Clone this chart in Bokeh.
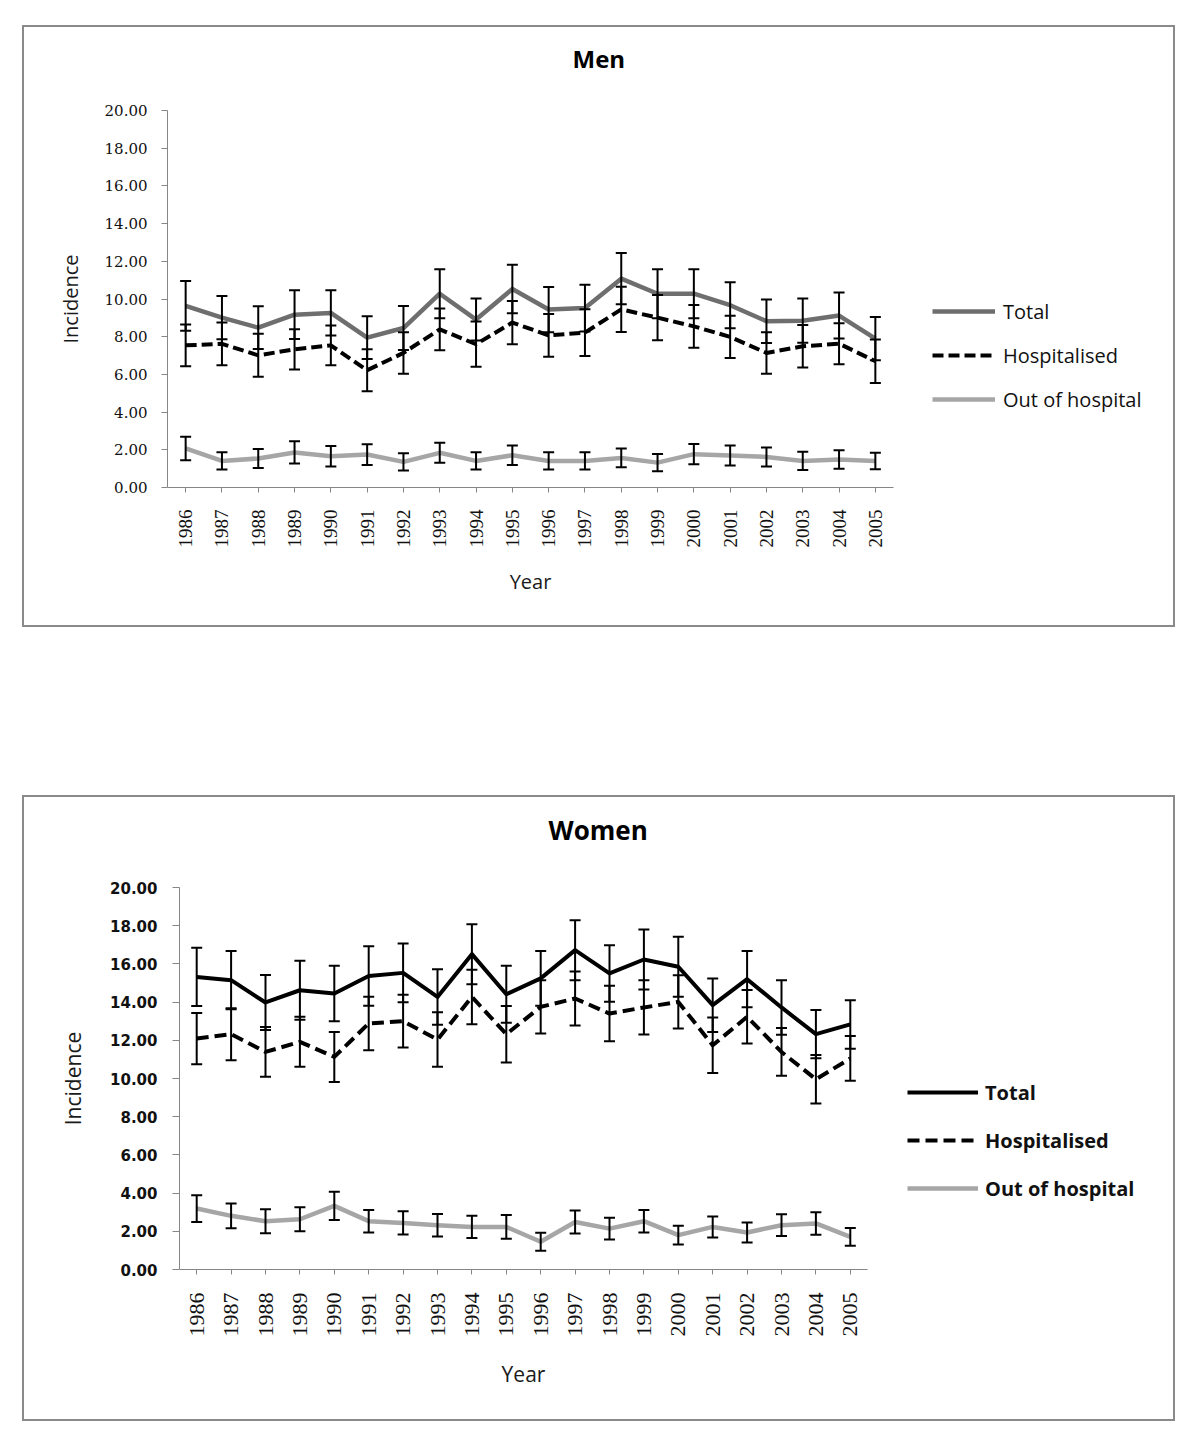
import math
from bokeh.plotting import figure
from bokeh.models import (ColumnDataSource, Whisker, TeeHead, Legend, LegendItem,
                          FixedTicker, NumeralTickFormatter, Range1d)
from bokeh.embed import file_html
from bokeh.resources import INLINE

# ---------------- data ----------------
years = list(range(1986, 2006))
y_ticks = [0, 2, 4, 6, 8, 10, 12, 14, 16, 18, 20]
series_names = ["Total", "Hospitalised", "Out of hospital"]

men_total = [9.63, 9.01, 8.48, 9.17, 9.26, 7.95, 8.46, 10.28, 8.91, 10.53,
             9.44, 9.52, 11.08, 10.28, 10.28, 9.67, 8.82, 8.85, 9.12, 7.90]
men_total_err = [1.32, 1.15, 1.13, 1.29, 1.20, 1.13, 1.17, 1.30, 1.11, 1.29,
                 1.20, 1.24, 1.36, 1.30, 1.30, 1.22, 1.15, 1.17, 1.22, 1.15]
men_hosp = [7.54, 7.62, 7.01, 7.33, 7.54, 6.22, 7.14, 8.39, 7.60, 8.75,
            8.07, 8.22, 9.45, 9.01, 8.55, 7.99, 7.14, 7.49, 7.63, 6.70]
men_hosp_err = [1.11, 1.13, 1.14, 1.07, 1.05, 1.11, 1.10, 1.11, 1.20, 1.15,
                1.14, 1.24, 1.20, 1.20, 1.13, 1.12, 1.10, 1.13, 1.09, 1.15]
men_out = [2.07, 1.41, 1.54, 1.86, 1.66, 1.75, 1.36, 1.84, 1.41, 1.71,
           1.41, 1.41, 1.57, 1.32, 1.77, 1.70, 1.62, 1.41, 1.48, 1.41]
men_out_err = [0.62, 0.46, 0.50, 0.59, 0.54, 0.55, 0.46, 0.53, 0.46, 0.52,
               0.46, 0.46, 0.50, 0.46, 0.54, 0.53, 0.50, 0.48, 0.49, 0.44]

women_total = [15.32, 15.15, 13.98, 14.62, 14.45, 15.37, 15.53, 14.27, 16.51, 14.41,
               15.24, 16.72, 15.50, 16.23, 15.85, 13.84, 15.20, 13.72, 12.32, 12.83]
women_total_err = [1.53, 1.52, 1.44, 1.54, 1.45, 1.56, 1.54, 1.45, 1.57, 1.49,
                   1.43, 1.57, 1.48, 1.57, 1.57, 1.40, 1.47, 1.43, 1.26, 1.27]
women_hosp = [12.09, 12.32, 11.39, 11.92, 11.13, 12.88, 13.00, 12.04, 14.27, 12.32,
              13.75, 14.19, 13.40, 13.72, 14.01, 11.74, 13.23, 11.39, 9.96, 11.05]
women_hosp_err = [1.34, 1.36, 1.30, 1.31, 1.31, 1.40, 1.38, 1.43, 1.43, 1.48,
                  1.39, 1.41, 1.45, 1.42, 1.39, 1.45, 1.40, 1.25, 1.27, 1.17]
women_out = [3.19, 2.81, 2.53, 2.63, 3.33, 2.53, 2.44, 2.32, 2.23, 2.23,
             1.45, 2.49, 2.14, 2.53, 1.80, 2.23, 1.94, 2.32, 2.41, 1.71]
women_out_err = [0.70, 0.65, 0.63, 0.63, 0.74, 0.59, 0.61, 0.59, 0.58, 0.62,
                 0.47, 0.60, 0.57, 0.59, 0.49, 0.55, 0.52, 0.57, 0.59, 0.46]

AXIS_GRAY = "#868686"


def build(title, series, cfg):
    p = figure(frame_width=cfg["fw"], frame_height=cfg["fh"],
               min_border_left=cfg["bl"], min_border_right=cfg["br"],
               min_border_top=cfg["bt"], min_border_bottom=cfg["bb"],
               x_range=Range1d(1985.5, 2005.5), y_range=Range1d(0, 20),
               output_backend="svg", toolbar_location=None,
               background_fill_color="white", border_fill_alpha=0)
    p.outline_line_color = None
    p.xgrid.visible = False
    p.ygrid.visible = False

    # a blank second line lifts the title away from the frame
    p.title.text = title + "\n "
    p.title.align = "left"
    p.title.offset = cfg["title_offset"]
    p.title.standoff = cfg["title_standoff"]
    p.title.text_font = "Open Sans"
    p.title.text_font_style = "bold"
    p.title.text_font_size = cfg["title_size"]
    p.title.text_color = "#000000"

    # y axis
    ya = p.yaxis[0]
    ya.ticker = FixedTicker(ticks=y_ticks)
    ya.formatter = NumeralTickFormatter(format="0.00")
    ya.axis_label = "Incidence"
    ya.axis_label_text_font = "Open Sans"
    ya.axis_label_text_font_style = "normal"
    ya.axis_label_text_font_size = cfg["alab_size"]
    ya.axis_label_text_color = "#1a1a1a"
    ya.axis_label_standoff = cfg["ylab_standoff"]
    ya.major_label_text_font = cfg["ytick_font"]
    ya.major_label_text_font_style = cfg["ytick_style"]
    ya.major_label_text_font_size = cfg["ytick_size"]
    ya.major_label_text_color = "#111111"
    ya.major_label_standoff = cfg["ytick_standoff"]
    ya.major_tick_out = cfg["ytick_out"]
    ya.major_tick_in = 0
    ya.minor_tick_out = 0
    ya.minor_tick_in = 0
    ya.axis_line_color = AXIS_GRAY
    ya.major_tick_line_color = AXIS_GRAY

    # x axis
    xa = p.xaxis[0]
    xa.ticker = FixedTicker(ticks=years)
    xa.major_label_orientation = math.pi / 2
    xa.axis_label = "Year"
    xa.axis_label_text_font = "Open Sans"
    xa.axis_label_text_font_style = "normal"
    xa.axis_label_text_font_size = cfg["alab_size"]
    xa.axis_label_text_color = "#1a1a1a"
    xa.axis_label_standoff = cfg["xlab_standoff"]
    xa.major_label_text_font = "Liberation Serif"
    xa.major_label_text_font_size = cfg["xtick_size"]
    xa.major_label_text_color = "#111111"
    xa.major_label_standoff = cfg["xtick_standoff"]
    xa.major_tick_out = 5
    xa.major_tick_in = 0
    xa.minor_tick_out = 0
    xa.minor_tick_in = 0
    xa.axis_line_color = AXIS_GRAY
    xa.major_tick_line_color = AXIS_GRAY

    renderers = []
    sources = []
    for (vals, errs, color, width, dash) in series:
        src = ColumnDataSource(dict(
            x=years, y=vals,
            lower=[v - e for v, e in zip(vals, errs)],
            upper=[v + e for v, e in zip(vals, errs)]))
        r = p.line("x", "y", source=src, line_color=color, line_width=width,
                   line_dash=dash, line_join="round")
        renderers.append(r)
        sources.append(src)

    for src in sources:
        w = Whisker(base="x", lower="lower", upper="upper", source=src,
                    line_color="black", line_width=2, level="overlay",
                    upper_head=TeeHead(size=11, line_color="black", line_width=2),
                    lower_head=TeeHead(size=11, line_color="black", line_width=2))
        p.add_layout(w)

    legend = Legend(items=[LegendItem(label=n, renderers=[r])
                           for n, r in zip(series_names, renderers)],
                    location=cfg["leg_loc"], orientation="vertical",
                    glyph_width=cfg["glyph_w"], glyph_height=28, label_height=28,
                    label_standoff=cfg["leg_standoff"], spacing=cfg["leg_spacing"],
                    padding=0, margin=0, border_line_color=None,
                    background_fill_alpha=0,
                    label_text_font="Open Sans", label_text_font_size="20px",
                    label_text_font_style=cfg["leg_style"], label_text_color="#111111")
    p.add_layout(legend, "right")

    inner_w = cfg["bl"] + cfg["fw"] + cfg["br"]
    inner_h = cfg["bt"] + cfg["fh"] + cfg["bb"]
    p.styles = {"border": "2px solid #8a8a8a",
                "box-sizing": "content-box",
                "width": f"{inner_w}px",
                "max-width": f"{inner_w}px",
                "height": f"{inner_h}px",
                "background-color": "white"}
    p.margin = cfg["margin"]
    return p


men_cfg = dict(fw=726, fh=377, bl=143, br=280, bt=83, bb=138,
               alab_size="20px", ylab_standoff=18, ytick_font="DejaVu Serif",
               ytick_style="normal", ytick_size="15px", ytick_standoff=14, ytick_out=6,
               xlab_standoff=17, xtick_size="19px", xtick_standoff=17,
               leg_loc=(39, 74), glyph_w=63, leg_standoff=8, leg_spacing=16,
               leg_style="normal", title_offset=405, title_standoff=6,
               title_size="24px", margin=(25, 0, 0, 22))

women_cfg = dict(fw=688, fh=382, bl=155, br=306, bt=90, bb=150,
                 alab_size="21px", ylab_standoff=20, ytick_font="DejaVu Sans",
                 ytick_style="bold", ytick_size="15px", ytick_standoff=15, ytick_out=7,
                 xlab_standoff=20, xtick_size="22px", xtick_standoff=18,
                 leg_loc=(40, 67), glyph_w=71, leg_standoff=7, leg_spacing=20,
                 leg_style="bold", title_offset=369, title_standoff=8,
                 title_size="26px", margin=(168, 0, 0, 22))

men_series = [(men_total, men_total_err, "#6e6e6e", 4.5, "solid"),
              (men_hosp, men_hosp_err, "#000000", 4, "11 5"),
              (men_out, men_out_err, "#a6a6a6", 4.5, "solid")]
women_series = [(women_total, women_total_err, "#000000", 4, "solid"),
                (women_hosp, women_hosp_err, "#000000", 4, "12 6"),
                (women_out, women_out_err, "#a6a6a6", 4.5, "solid")]

p_men = build("Men", men_series, men_cfg)
p_women = build("Women", women_series, women_cfg)

open("out.html", "w").write(file_html([p_men, p_women], INLINE))
